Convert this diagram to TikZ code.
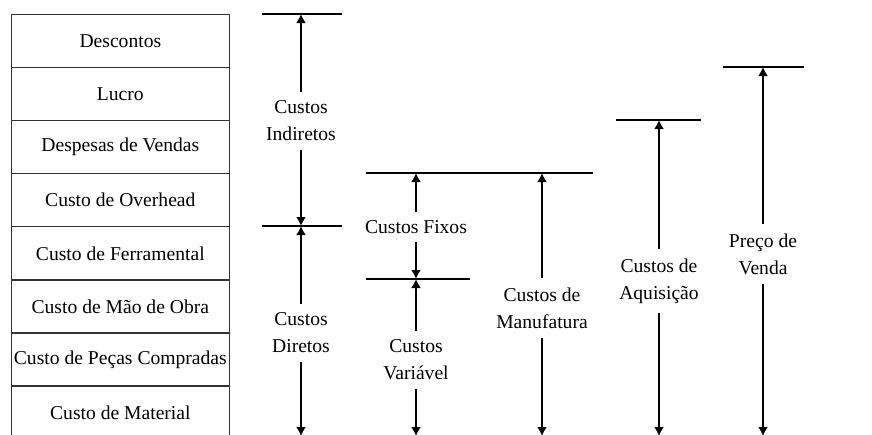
\documentclass[tikz,border=0pt]{standalone}
\usepackage{fontspec}
\setmainfont{Liberation Serif}
\usetikzlibrary{arrows.meta, positioning, matrix}
\tikzset{
    costTable/.style={
        matrix of nodes,
        nodes={
            draw=black!80,
            line width=1.3pt,
            minimum width=218pt,
            minimum height=53.1pt,
            anchor=center,
            inner sep=0pt,
            font=\fontsize{19.6}{27}\selectfont
        },
        row sep=-1.3pt,
        inner sep=0pt
    },
    bar/.style={line width=2.2pt},
    dim/.style={-{Latex[length=9pt,width=10pt]}, line width=2.2pt},
    costLabel/.style={align=center, inner xsep=2pt, inner ysep=9pt, font=\fontsize{19.6}{27}\selectfont}
}

\begin{document}
\begin{tikzpicture}[x=1pt, y=-1pt]
    \useasboundingbox (0,0) rectangle (872,434);
    \clip (0,0) rectangle (872,434);

    % Table
    \matrix[costTable, anchor=north west] (tab) at (10.5,13.5) {
        Descontos\\
        Lucro\\
        Despesas de Vendas\\
        Custo de Overhead\\
        Custo de Ferramental\\
        Custo de Mão de Obra\\
        Custo de Peças Compradas\\
        Custo de Material\\
    };

    % Levels
    \coordinate (indTop) at (301,14);
    \coordinate (dirTop) at (301,226);
    \coordinate (dirBot) at (301,436);
    \coordinate (fixTop) at (416,173);
    \coordinate (varTop) at (416,279);
    \coordinate (varBot) at (416,436);
    \coordinate (manTop) at (542,173);
    \coordinate (manBot) at (542,436);
    \coordinate (aqTop) at (659,120);
    \coordinate (aqBot) at (659,436);
    \coordinate (pvTop) at (763,67);
    \coordinate (pvBot) at (763,436);

    % Bars
    \draw[bar] (262,14) -- (342,14);
    \draw[bar] (262,226) -- (342,226);
    \draw[bar] (366,173) -- (593,173);
    \draw[bar] (366,279) -- (470,279);
    \draw[bar] (616,120) -- (701,120);
    \draw[bar] (723,67) -- (804,67);

    % Labels
    \node[costLabel] (ind) at (301,121) {Custos\\Indiretos};
    \node[costLabel] (dir) at (301,333) {Custos\\Diretos};
    \node[costLabel, inner ysep=8pt] (fix) at (416,227) {Custos Fixos};
    \node[costLabel] (var) at (416,360) {Custos\\Variável};
    \node[costLabel] (man) at (542,308) {Custos de\\Manufatura};
    \node[costLabel] (aq) at (659,281) {Custos de\\Aquisição};
    \node[costLabel] (pv) at (763,254) {Preço de\\Venda};

    % Arrows
    \draw[dim] (ind) -- (indTop);
    \draw[dim] (ind) -- (dirTop);
    \draw[dim] (dir) -- (dirTop);
    \draw[dim] (dir) -- (dirBot);
    \draw[dim] (fix) -- (fixTop);
    \draw[dim] (fix) -- (varTop);
    \draw[dim] (var) -- (varTop);
    \draw[dim] (var) -- (varBot);
    \draw[dim] (man) -- (manTop);
    \draw[dim] (man) -- (manBot);
    \draw[dim] (aq) -- (aqTop);
    \draw[dim] (aq) -- (aqBot);
    \draw[dim] (pv) -- (pvTop);
    \draw[dim] (pv) -- (pvBot);
\end{tikzpicture}
\end{document}
